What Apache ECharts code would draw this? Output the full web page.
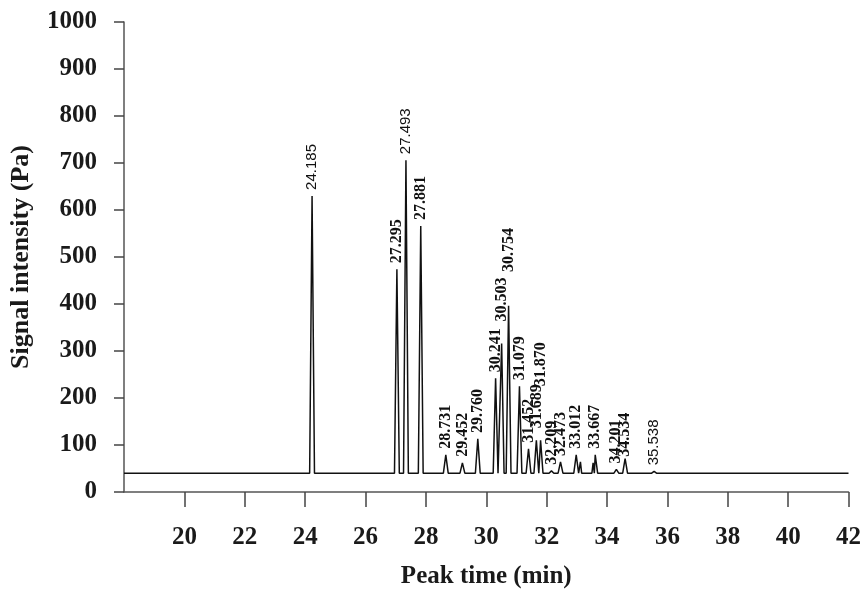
<!DOCTYPE html>
<html>
<head>
<meta charset="utf-8">
<script src="https://cdn.jsdelivr.net/npm/echarts@6/dist/echarts.min.js"></script>
<style>
  html, body { margin: 0; padding: 0; background: #fff; }
  #chart { width: 864px; height: 594px; }
</style>
</head>
<body>
<div id="chart"></div>
<script>
// peaks (apex time in min, apex signal in Pa)
const peakLabels = ['24.185', '27.295', '27.493', '27.881', '28.731', '29.452', '29.760',
  '30.241', '30.503', '30.754', '31.079', '31.452', '31.689', '31.870', '32.209',
  '32.473', '33.012', '33.667', '34.201', '34.534', '35.538']
const peakTimes = [24.23, 27.04, 27.34, 27.83, 28.66, 29.21, 29.72,
  30.31, 30.51, 30.74, 31.10, 31.40, 31.66, 31.80, 32.16,
  32.46, 32.98, 33.61, 34.31, 34.60, 35.56]
const peakHeights = [630, 474, 706, 566, 79, 62, 113,
  242, 316, 396, 225, 92, 110, 110, 45,
  64, 79, 79, 48, 71, 44]
// small unlabelled shoulders next to 33.012 and 33.667
const shoulderTimes = [33.12, 33.54]
const shoulderHeights = [64, 62]
const baseline = 40
const timeRange = [18, 42]
const yTicks = [0, 1000, 100]

// label styling: a few are set in a plain sans face, some are lifted clear of neighbours
const sansLabels = ['24.185', '27.493', '35.538']
const labelLift = { '30.503': 16, '30.754': 28, '31.870': 48, '31.689': 6, '34.534': -4 }

function buildTrace() {
  const apexes = peakTimes.map((t, i) => ({ t, v: peakHeights[i], label: peakLabels[i] }))
    .concat(shoulderTimes.map((t, i) => ({ t, v: shoulderHeights[i], label: null })))
    .sort((a, b) => a.t - b.t)
  const pts = [{ value: [timeRange[0], baseline] }]
  apexes.forEach(p => {
    const w = p.label ? 0.08 : 0.04
    pts.push({ value: [p.t - w, baseline] })
    const item = { value: [p.t, p.v] }
    if (p.label) {
      const sans = sansLabels.includes(p.label)
      item.label = {
        show: true,
        formatter: p.label,
        distance: 6 + (labelLift[p.label] || 0),
        fontFamily: sans ? 'Liberation Sans' : 'Liberation Serif',
        fontWeight: sans ? 'normal' : 'bold',
        fontSize: sans ? 15 : 16
      }
    }
    pts.push(item)
    pts.push({ value: [p.t + w, baseline] })
  })
  pts.push({ value: [timeRange[1], baseline] })
  return pts
}

const chart = echarts.init(document.getElementById('chart'))
const axisFont = { fontFamily: 'Liberation Serif', fontWeight: 'bold', color: '#1a1a1a' }

chart.setOption({
  animation: false,
  backgroundColor: '#fff',
  grid: { left: 123, right: 13, top: 22, bottom: 102 },
  xAxis: {
    type: 'value',
    min: timeRange[0],
    max: timeRange[1],
    interval: 2,
    name: 'Peak time (min)',
    nameLocation: 'middle',
    nameGap: 72,
    nameTextStyle: { ...axisFont, fontSize: 25 },
    axisLine: { lineStyle: { color: '#555', width: 1.5 } },
    axisTick: { length: 15, lineStyle: { color: '#444', width: 1.5 } },
    axisLabel: { ...axisFont, fontSize: 25, margin: 33, showMinLabel: false },
    splitLine: { show: false }
  },
  yAxis: {
    type: 'value',
    min: yTicks[0],
    max: yTicks[1],
    interval: yTicks[2],
    name: 'Signal intensity (Pa)',
    nameLocation: 'middle',
    nameGap: 90,
    nameTextStyle: { ...axisFont, fontSize: 26 },
    axisLine: { show: true, lineStyle: { color: '#555', width: 1.5 } },
    axisTick: { show: true, length: 10, lineStyle: { color: '#444', width: 1.5 } },
    axisLabel: { ...axisFont, fontSize: 25, margin: 27, formatter: v => String(v) },
    splitLine: { show: false }
  },
  series: [{
    type: 'line',
    data: buildTrace(),
    showSymbol: true,
    showAllSymbol: true,
    symbol: 'circle',
    symbolSize: 0,
    lineStyle: { color: '#111', width: 1.5 },
    itemStyle: { color: '#111' },
    label: {
      show: false,
      position: 'top',
      rotate: 90,
      distance: 6,
      align: 'left',
      verticalAlign: 'middle',
      color: '#111'
    }
  }]
})
</script>
</body>
</html>
